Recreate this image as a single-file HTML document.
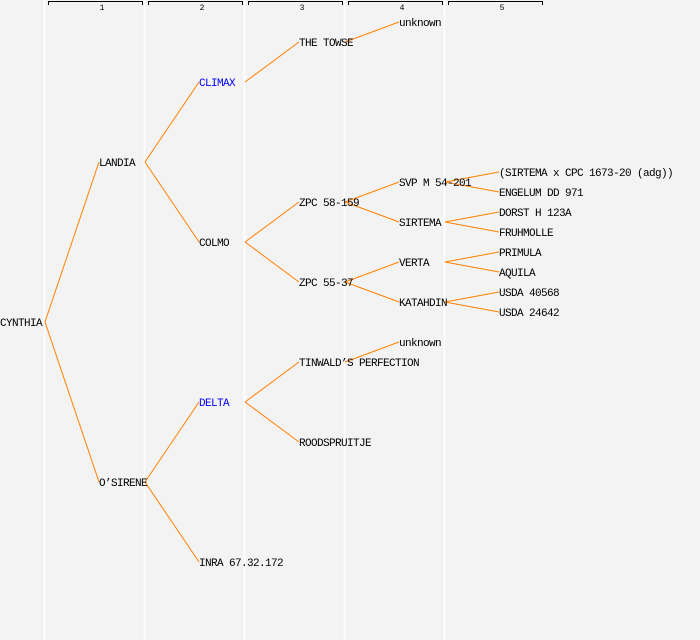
<!DOCTYPE html>
<html><head><style>body{margin:0;background:#f3f3f3}svg{display:block}text{font-family:"Liberation Mono","DejaVu Sans Mono",monospace;font-size:11px;letter-spacing:-0.6px;fill:#000}</style></head><body>
<svg width="700" height="640" viewBox="0 0 700 640" xmlns="http://www.w3.org/2000/svg">
<rect width="700" height="640" fill="#f3f3f3"/>
<g stroke="#fff" stroke-width="1.5">
<line x1="44.5" y1="0" x2="44.5" y2="640"/><line x1="144.5" y1="0" x2="144.5" y2="640"/><line x1="244.5" y1="0" x2="244.5" y2="640"/><line x1="344.5" y1="0" x2="344.5" y2="640"/><line x1="444.5" y1="0" x2="444.5" y2="640"/>
</g>
<g stroke="#000" stroke-width="1" fill="none">
<path d="M48.5 5V1.5H142.5V5"/><path d="M148.5 5V1.5H242.5V5"/><path d="M248.5 5V1.5H342.5V5"/><path d="M348.5 5V1.5H442.5V5"/><path d="M448.5 5V1.5H542.5V5"/>
</g>
<g text-anchor="middle">
<text x="102" y="10" style="font-size:8px;letter-spacing:0">1</text><text x="202" y="10" style="font-size:8px;letter-spacing:0">2</text><text x="302" y="10" style="font-size:8px;letter-spacing:0">3</text><text x="402" y="10" style="font-size:8px;letter-spacing:0">4</text><text x="502" y="10" style="font-size:8px;letter-spacing:0">5</text>
</g>
<g stroke="#ff8000" stroke-width="1" fill="none">
<line x1="45" y1="322" x2="99" y2="162"/><line x1="45" y1="322" x2="99" y2="482"/>
<line x1="145" y1="162" x2="199" y2="82"/><line x1="145" y1="162" x2="199" y2="242"/>
<line x1="145" y1="482" x2="199" y2="402"/><line x1="145" y1="482" x2="199" y2="562"/>
<line x1="245" y1="82" x2="299" y2="42"/>
<line x1="245" y1="242" x2="299" y2="202"/><line x1="245" y1="242" x2="299" y2="282"/>
<line x1="245" y1="402" x2="299" y2="362"/><line x1="245" y1="402" x2="299" y2="442"/>
<line x1="345" y1="42" x2="399" y2="22"/>
<line x1="345" y1="202" x2="399" y2="182"/><line x1="345" y1="202" x2="399" y2="222"/>
<line x1="345" y1="282" x2="399" y2="262"/><line x1="345" y1="282" x2="399" y2="302"/>
<line x1="345" y1="362" x2="399" y2="342"/>
<line x1="445" y1="182" x2="499" y2="172"/><line x1="445" y1="182" x2="499" y2="192"/>
<line x1="445" y1="222" x2="499" y2="212"/><line x1="445" y1="222" x2="499" y2="232"/>
<line x1="445" y1="262" x2="499" y2="252"/><line x1="445" y1="262" x2="499" y2="272"/>
<line x1="445" y1="302" x2="499" y2="292"/><line x1="445" y1="302" x2="499" y2="312"/>
</g>
<g>
<text x="0" y="326">CYNTHIA</text>
<text x="99" y="166">LANDIA</text><text x="99" y="486">O’SIRENE</text>
<text x="199" y="86" style="fill:#0000ff">CLIMAX</text><text x="199" y="246">COLMO</text><text x="199" y="406" style="fill:#0000ff">DELTA</text><text x="199" y="566">INRA 67.32.172</text>
<text x="299" y="46">THE TOWSE</text><text x="299" y="206">ZPC 58-159</text><text x="299" y="286">ZPC 55-37</text><text x="299" y="366">TINWALD’S PERFECTION</text><text x="299" y="446">ROODSPRUITJE</text>
<text x="399" y="26">unknown</text><text x="399" y="186">SVP M 54-201</text><text x="399" y="226">SIRTEMA</text><text x="399" y="266">VERTA</text><text x="399" y="306">KATAHDIN</text><text x="399" y="346">unknown</text>
<text x="499" y="176">(SIRTEMA x CPC 1673-20 (adg))</text><text x="499" y="196">ENGELUM DD 971</text><text x="499" y="216">DORST H 123A</text><text x="499" y="236">FRUHMOLLE</text><text x="499" y="256">PRIMULA</text><text x="499" y="276">AQUILA</text><text x="499" y="296">USDA 40568</text><text x="499" y="316">USDA 24642</text>
</g>
</svg>
</body></html>
